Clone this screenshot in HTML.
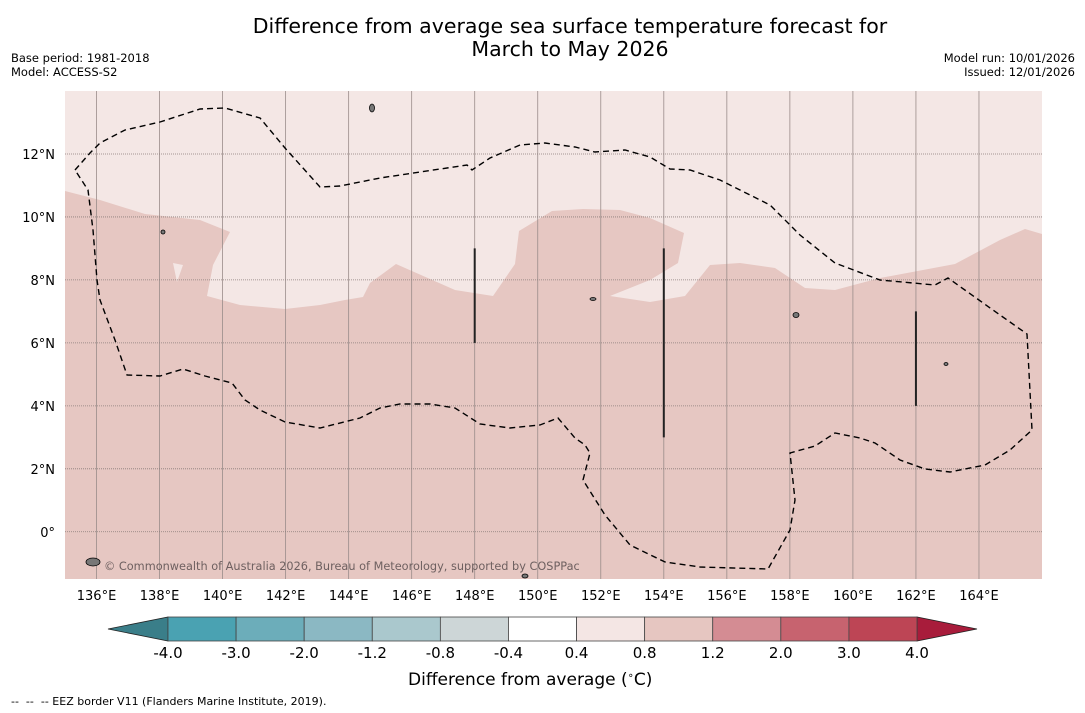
<!DOCTYPE html>
<html><head><meta charset="utf-8"><style>
body{margin:0;background:#fff;font-family:"DejaVu Sans","Liberation Sans",sans-serif;}
#wrap{position:relative;width:1085px;height:713px;overflow:hidden;}
.t{position:absolute;white-space:nowrap;}
</style></head><body>
<div id="wrap">
<div class="t" style="left:0;width:1140px;top:15px;text-align:center;font-size:20.5px;line-height:23px;">Difference from average sea surface temperature forecast for<br>March to May 2026</div>
<div class="t" style="left:11px;top:51px;font-size:11.5px;line-height:14px;">Base period: 1981-2018<br>Model: ACCESS-S2</div>
<div class="t" style="right:10px;top:51px;font-size:11.5px;line-height:14px;text-align:right;">Model run: 10/01/2026<br>Issued: 12/01/2026</div>
<svg id="map" width="1085" height="713" style="position:absolute;left:0;top:0"></svg>
<div class="t" style="left:408px;top:670px;font-size:17px;">Difference from average (<sup style="font-size:10px">∘</sup>C)</div>
<div class="t" style="left:11px;top:695px;font-size:11px;">--&nbsp; --&nbsp; -- EEZ border V11 (Flanders Marine Institute, 2019).</div>
</div>
<script>
const lonTicks=[136,138,140,142,144,146,148,150,152,154,156,158,160,162,164];
const latTicks=[0,2,4,6,8,10,12];
const cbLevels=["-4.0","-3.0","-2.0","-1.2","-0.8","-0.4","0.4","0.8","1.2","2.0","3.0","4.0"];
const cbColors=["#4aa2b2","#6cadba","#8bb8c3","#aac8cd","#cdd6d7","#ffffff","#f4e6e4","#e6c6c1","#d48c93","#c7636f","#bd4555"];
const X0=65,X1=1042,Y0=91,Y1=579,LON0=135,LON1=166,LAT0=-1.5,LAT1=14;
const x=l=>X0+(l-LON0)/(LON1-LON0)*(X1-X0);
const y=l=>Y1-(l-LAT0)/(LAT1-LAT0)*(Y1-Y0);
const svg=document.getElementById('map');const NS='http://www.w3.org/2000/svg';
function mk(t,a,p){const e=document.createElementNS(NS,t);for(const k in a)e.setAttribute(k,a[k]);(p||svg).appendChild(e);return e;}
let e;
e=mk('rect',{x:X0,y:Y0,width:X1-X0,height:Y1-Y0,fill:'#e6c7c2'});

const light=[[65,91],[1042,91],[1042,234],[1025,229],[1000,240],[955,264],[880,278],[835,290],[805,288],[775,268],[740,263],[710,265],[685,296],[650,302],[610,296],[650,280],[678,263],[684,233],[650,218],[620,210],[583,209],[552,211],[519,231],[515,264],[493,296],[455,290],[396,264],[370,283],[363,297],[345,300],[320,305],[285,309],[240,305],[207,296],[213,265],[230,232],[200,220],[145,214],[100,200],[65,191]];
e=mk('polygon',{points:light.map(p=>p.join(',')).join(' '),fill:'#f4e7e5'});

mk('polygon',{points:'173,263 183,265 177,282',fill:'#f4e7e5'});
lonTicks.forEach(l=>{e=mk('line',{x1:x(l),x2:x(l),y1:Y0,y2:Y1,stroke:'#9a8c8a','stroke-width':0.8});

e=mk('text',{x:x(l),y:600,'font-size':13,'text-anchor':'middle','font-family':'DejaVu Sans,Liberation Sans,sans-serif'});e.textContent=l+'°E';
});
latTicks.forEach(l=>{e=mk('line',{x1:X0,x2:X1,y1:y(l),y2:y(l),stroke:'#8a7c7a','stroke-width':0.8,'stroke-dasharray':'1,1'});

e=mk('text',{x:55,y:y(l)+5,'font-size':13,'text-anchor':'end','font-family':'DejaVu Sans,Liberation Sans,sans-serif'});e.textContent=l===0?'0°':l+'°N';
});
const eez=[[75,170],[90,153],[100,143],[125,130],[160,122],[200,109],[225,108],[260,118],[285,148],[320,187],[340,186],[380,178],[467,165],[472,170],[490,158],[520,145],[545,143],[575,147],[595,152],[625,150],[650,157],[670,169],[690,170],[720,180],[740,190],[770,205],[780,215],[800,235],[835,263],[880,280],[935,285],[948,278],[1000,315],[1027,334],[1032,430],[1010,450],[985,465],[950,472],[925,469],[900,460],[875,443],[860,438],[835,433],[815,446],[790,453],[795,500],[790,530],[768,569],[700,567],[665,562],[630,545],[605,515],[583,480],[590,453],[585,445],[575,438],[558,418],[540,425],[510,428],[480,424],[455,408],[430,404],[400,404],[380,408],[360,418],[320,428],[285,422],[260,410],[245,400],[232,383],[205,376],[183,369],[160,376],[127,375],[115,340],[100,300],[97,280],[93,230],[88,190],[75,170]];
e=mk('polyline',{points:eez.map(p=>p.join(',')).join(' '),fill:'none',stroke:'#000','stroke-width':1.4,'stroke-dasharray':'6,4'});

[[148,9,6],[154,9,3],[162,7,4]].forEach(s=>{e=mk('line',{x1:x(s[0]),x2:x(s[0]),y1:y(s[1]),y2:y(s[2]),stroke:'#222','stroke-width':2});
});
[[372,108,2.5,4],[163,232,2,2],[796,315,3,2.5],[593,299,3,1.5],[946,364,2,1.5],[93,562,7,4],[525,576,3,2]].forEach(b=>{e=mk('ellipse',{cx:b[0],cy:b[1],rx:b[2],ry:b[3],fill:'#777',stroke:'#000','stroke-width':0.8});
});
e=mk('text',{x:104,y:570,'font-size':11.3,fill:'#6e6060','font-family':'DejaVu Sans,Liberation Sans,sans-serif'});e.textContent='© Commonwealth of Australia 2026, Bureau of Meteorology, supported by COSPPac';

const CB0=168,CB1=917,CT=617,CBm=641;const w=(CB1-CB0)/cbColors.length;
e=mk('polygon',{points:`108,629 ${CB0},${CT} ${CB0},${CBm}`,fill:'#3a7e89',stroke:'#222','stroke-width':0.8});

e=mk('polygon',{points:`977,629 ${CB1},${CT} ${CB1},${CBm}`,fill:'#a81c3b',stroke:'#222','stroke-width':0.8});

cbColors.forEach((c,i)=>{e=mk('rect',{x:CB0+i*w,y:CT,width:w,height:CBm-CT,fill:c,stroke:'#444','stroke-width':0.8});
});
cbLevels.forEach((s,i)=>{e=mk('text',{x:CB0+i*w,y:658,'font-size':15,'text-anchor':'middle','font-family':'DejaVu Sans,Liberation Sans,sans-serif'});e.textContent=s;
});
</script>
</body></html>
